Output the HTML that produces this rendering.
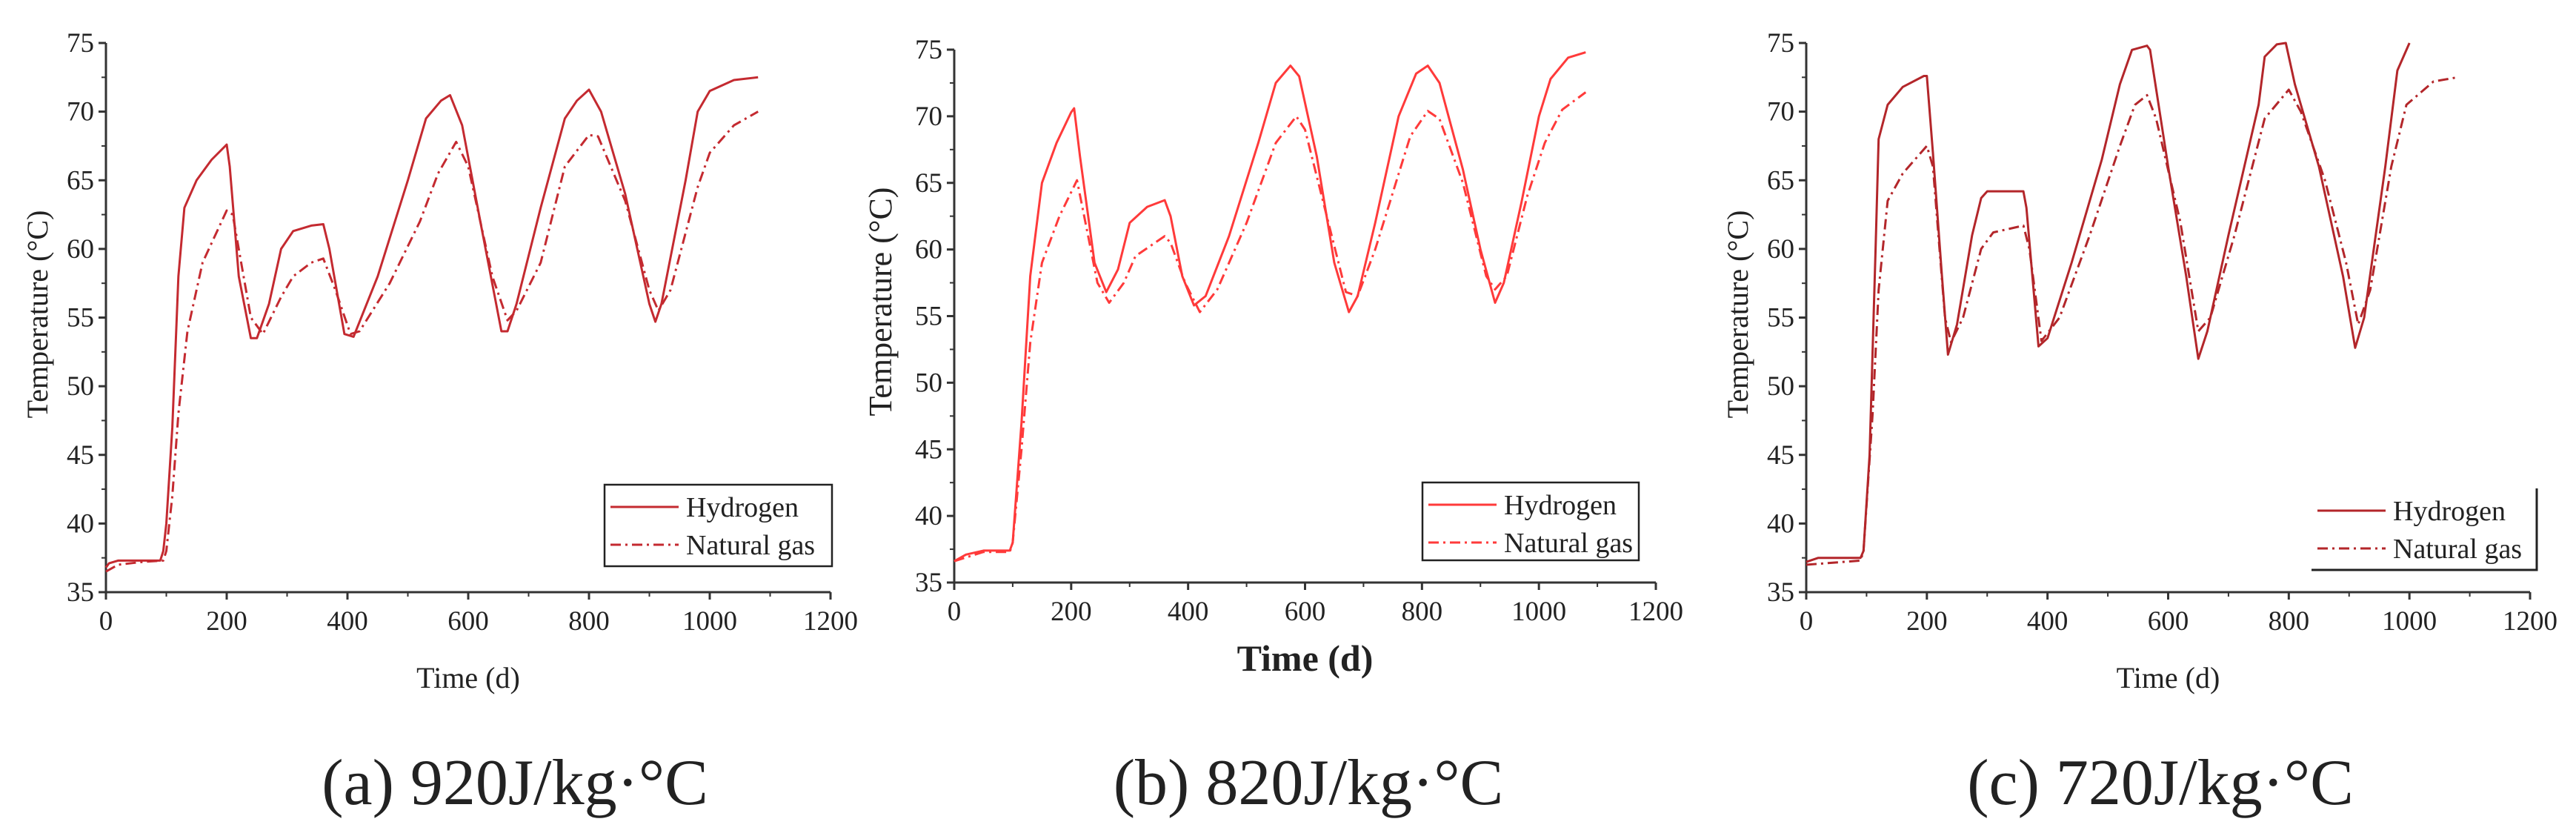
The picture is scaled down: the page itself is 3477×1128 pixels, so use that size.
<!DOCTYPE html>
<html><head><meta charset="utf-8"><style>
html,body{margin:0;padding:0;background:#fff;}
svg{display:block;}
text{font-family:"Liberation Serif",serif;fill:#222;}
</style></head><body>
<svg id="chart" width="3477" height="1128" viewBox="0 0 3477 1128" xmlns="http://www.w3.org/2000/svg"></svg>
<script>
const xTicks=[0,200,400,600,800,1000,1200];
const yTicks=[35,40,45,50,55,60,65,70,75];
// Panel a (920)
const tHa=[0,5,20,60,90,95,100,110,120,130,150,175,200,205,220,240,250,270,290,310,340,360,370,395,410,450,500,530,555,570,590,620,655,665,680,720,760,780,800,820,860,900,910,920,960,980,1000,1040,1080];
const vHa=[36.8,37.1,37.3,37.3,37.3,38,40,47,58,63,65,66.5,67.6,66,58,53.5,53.5,56,60,61.3,61.7,61.8,60,53.8,53.6,58,65,69.5,70.8,71.2,69,62,54,54,56,63,69.5,70.8,71.6,70,64,56,54.7,56,65,70,71.5,72.3,72.5];
const tNa=[0,20,60,95,100,110,120,135,160,200,210,240,260,290,310,340,360,380,405,420,470,520,550,580,600,640,665,680,720,760,800,815,860,900,915,935,980,1000,1040,1080];
const vNa=[36.5,37,37.2,37.3,38,42,48,54,59,62.8,62.5,55,53.8,56.5,58,59,59.3,57,53.8,54,57.5,62,65.5,67.8,66,58,54.8,55.5,59,66,68.3,68.2,63.5,57,55.5,57,64.5,67,69,70];
// Panel b (820)
const tHb=[0,20,50,95,100,115,130,150,175,200,205,215,240,260,280,300,330,360,370,390,410,430,470,520,550,575,590,620,650,675,690,720,760,790,810,830,870,900,925,940,970,1000,1020,1050,1080];
const vHb=[36.6,37.1,37.4,37.4,38,47,58,65,68,70.3,70.6,67,59,56.8,58.5,62,63.2,63.7,62.5,58,55.8,56.5,61,68,72.5,73.8,73,67,59,55.3,56.5,62,70,73.2,73.8,72.5,66,60,56,57.5,63.5,70,72.8,74.4,74.8];
const tNb=[0,50,95,100,115,130,150,180,210,220,245,265,290,310,360,370,395,420,450,500,550,585,600,640,670,690,720,780,810,830,870,910,925,945,980,1010,1040,1080];
const vNb=[36.6,37.3,37.3,38,45,53,59,62.5,65.2,63,57.5,56,57.5,59.5,61,60.5,57.5,55.3,57,62,68,70,69,62,56.8,56.5,60,68.5,70.4,69.8,65,58,57,58,64,68,70.5,71.8];
// Panel c (720)
const tHc=[0,20,90,95,105,115,120,135,160,195,200,210,225,235,250,275,290,300,360,365,385,400,440,490,520,540,565,570,600,630,650,665,700,750,760,780,795,810,850,890,910,925,960,980,1000];
const vHc=[37.2,37.5,37.5,38,45,60,68,70.5,71.8,72.6,72.6,67,58,52.3,54.5,61,63.7,64.2,64.2,63,52.9,53.5,59,66.5,72,74.5,74.8,74.5,66,58,52,54,61,70.5,74,74.9,75,72,66,58,52.8,55,66,73,75];
const tNc=[0,90,95,110,120,135,160,200,210,230,240,260,290,310,360,370,390,420,470,520,545,565,580,620,650,670,710,760,800,820,860,895,915,935,970,995,1040,1080];
const vNc=[37,37.3,38,48,57,63.5,65.5,67.5,66,55,53.2,55,60,61.2,61.7,60,53.3,55,61,67.5,70.5,71.2,69.5,62,54,55,61,69.5,71.6,70,65,59,54.5,57,66,70.5,72.2,72.5];

const NS="http://www.w3.org/2000/svg";
const svg=document.getElementById('chart');
function mk(tag,attrs,parent){const e=document.createElementNS(NS,tag);for(const k in attrs)e.setAttribute(k,attrs[k]);(parent||svg).appendChild(e);return e;}

const panels=[
 {id:'a',x0:143,x1:1121,y0:799,y1:58,color:'#c42a30',tick:37,ytitle:40,ytx:55,yty:424,xt:40,xtBold:false,xty:928,leg:[816,654,307,110],legFull:true,cap:'(a) 920J/kg·°C',capx:695,tH:tHa,vH:vHa,tN:tNa,vN:vNa},
 {id:'b',x0:1288,x1:2235,y0:786,y1:67,color:'#ff3a3a',tick:37,ytitle:44,ytx:1193,yty:407,xt:50,xtBold:true,xty:905,leg:[1920,651,292,105],legFull:true,cap:'(b) 820J/kg·°C',capx:1766,tH:tHb,vH:vHb,tN:tNb,vN:vNb},
 {id:'c',x0:2438,x1:3415,y0:799,y1:58,color:'#b3262a',tick:37,ytitle:40,ytx:2350,yty:424,xt:40,xtBold:false,xty:928,leg:[3120,659,304,110],legFull:false,cap:'(c) 720J/kg·°C',capx:2916,tH:tHc,vH:vHc,tN:tNc,vN:vNc}
];

panels.forEach(p=>{
 const g=mk('g',{});
 
 
 const sx=v=>p.x0+(v-0)/(1200-0)*(p.x1-p.x0);
 const sy=v=>p.y0-(v-35)/(75-35)*(p.y0-p.y1);
 const ax=mk('path',{d:`M${p.x0},${p.y1} L${p.x0},${p.y0} L${p.x1},${p.y0}`,fill:'none',stroke:'#333','stroke-width':3},g);
 
 
 xTicks.forEach(v=>{
  mk('line',{x1:sx(v),x2:sx(v),y1:p.y0,y2:p.y0+10,stroke:'#333','stroke-width':3},g);
  if(v<1200) mk('line',{x1:sx(v+100),x2:sx(v+100),y1:p.y0,y2:p.y0+6,stroke:'#333','stroke-width':2},g);
  const t=mk('text',{x:sx(v),y:p.y0+51,'text-anchor':'middle','font-size':p.tick},g);
  t.textContent=v;
  
  
 });
 yTicks.forEach(v=>{
  mk('line',{x1:p.x0-10,x2:p.x0,y1:sy(v),y2:sy(v),stroke:'#333','stroke-width':3},g);
  if(v<75) mk('line',{x1:p.x0-6,x2:p.x0,y1:sy(v+2.5),y2:sy(v+2.5),stroke:'#333','stroke-width':2},g);
  const t=mk('text',{x:p.x0-16,y:sy(v)+12,'text-anchor':'end','font-size':p.tick},g);
  t.textContent=v;
  
  
 });
 const yt=mk('text',{x:p.ytx,y:p.yty,'text-anchor':'middle','font-size':p.ytitle,transform:`rotate(-90 ${p.ytx} ${p.yty})`,'dominant-baseline':'middle'},g);
 yt.textContent='Temperature (°C)';
 
 
 const xt=mk('text',{x:(p.x0+p.x1)/2,y:p.xty,'text-anchor':'middle','font-size':p.xt,'font-weight':p.xtBold?'bold':'normal'},g);
 xt.textContent='Time (d)';
 
 
 const line=(ts,vs,dash,name)=>{
  const d=ts.map((t,i)=>(i?'L':'M')+sx(t).toFixed(1)+','+sy(vs[i]).toFixed(1)).join(' ');
  const pa=mk('path',{d:d,fill:'none',stroke:p.color,'stroke-width':3,'stroke-linejoin':'round'},g);
  if(dash) pa.setAttribute('stroke-dasharray',dash);
  
  
 };
 line(p.tN,p.vN,'14,6,3,6','natural-gas-line');
 line(p.tH,p.vH,null,'hydrogen-line');
 const [lx,ly,lw,lh]=p.leg;
 const lg=mk('g',{},g);
 
 
 if(p.legFull) mk('rect',{x:lx,y:ly,width:lw,height:lh,fill:'#fff',stroke:'#222','stroke-width':2.5},lg);
 else mk('path',{d:`M${lx+lw},${ly} L${lx+lw},${ly+lh} L${lx},${ly+lh}`,fill:'none',stroke:'#222','stroke-width':3},lg);
 mk('line',{x1:lx+8,x2:lx+100,y1:ly+30,y2:ly+30,stroke:p.color,'stroke-width':3},lg);
 mk('line',{x1:lx+8,x2:lx+100,y1:ly+81,y2:ly+81,stroke:p.color,'stroke-width':3,'stroke-dasharray':'14,6,3,6'},lg);
 const l1=mk('text',{x:lx+110,y:ly+43,'font-size':38},lg);l1.textContent='Hydrogen';
 
 
 const l2=mk('text',{x:lx+110,y:ly+94,'font-size':38},lg);l2.textContent='Natural gas';
 
 
 const cap=mk('text',{x:p.capx,y:1085,'text-anchor':'middle','font-size':88,fill:'#111'},g);
 cap.textContent=p.cap;
 
 
});
</script>
</body></html>
